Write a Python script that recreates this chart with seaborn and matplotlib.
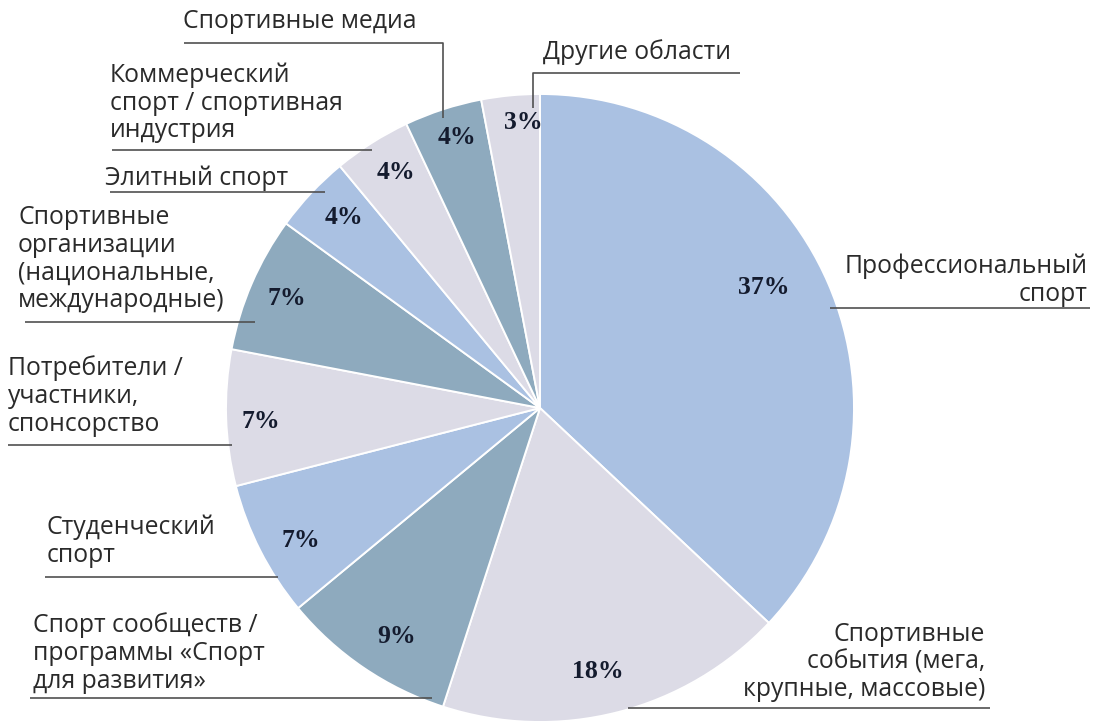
import numpy as np
import matplotlib
matplotlib.use("Agg")
import matplotlib.pyplot as plt
import seaborn as sns

# data
categories = [
    "Профессиональный\nспорт",
    "Спортивные\nсобытия (мега,\nкрупные, массовые)",
    "Спорт сообществ /\nпрограммы «Спорт\nдля развития»",
    "Студенческий\nспорт",
    "Потребители /\nучастники,\nспонсорство",
    "Спортивные\nорганизации\n(национальные,\nмеждународные)",
    "Элитный спорт",
    "Коммерческий\nспорт / спортивная\nиндустрия",
    "Спортивные медиа",
    "Другие области",
]
shares = [37, 18, 9, 7, 7, 7, 4, 4, 4, 3]

LIGHT_BLUE = "#aac1e2"
GREY = "#dcdbe6"
DARK = "#8eaabe"
colors = [LIGHT_BLUE, GREY, DARK, LIGHT_BLUE, GREY, DARK, LIGHT_BLUE, GREY, DARK, GREY]

# layout (pixel coords, y measured from top)
W, H = 1100, 723
CX, CY, R = 540, 408, 314
pct_r = [0.81, 0.86, 0.86, 0.87, 0.89, 0.88, 0.87, 0.88, 0.90, 0.91]
pct_shift = [5, -2, 2, 2, 1, 0, -1, -1, -1, -2]

# (x, y_center, ha, leader line points)
label_layout = [
    (1088, 280, "right", [(830, 308), (1090, 308)]),
    (985, 662, "right", [(628, 708), (990, 708)]),
    (33, 653, "left", [(30, 698), (432, 698)]),
    (47, 541, "left", [(45, 577), (278, 577)]),
    (8, 396, "left", [(8, 445), (232, 445)]),
    (18, 259, "left", [(25, 322), (255, 322)]),
    (105, 178, "left", [(110, 192), (325, 192)]),
    (110, 103, "left", [(112, 150), (372, 150)]),
    (183, 22, "left", [(184, 43), (443, 43), (443, 118)]),
    (543, 52, "left", [(740, 73), (533, 73), (533, 108)]),
]


def py(y):
    return H - y


sns.set_theme(style="white")
plt.rcParams["font.family"] = ["Open Sans", "DejaVu Sans"]

fig = plt.figure(figsize=(11, 7.23), dpi=100)
ax = fig.add_axes([0, 0, 1, 1])

wedges, _ = ax.pie(
    shares, colors=colors, startangle=90, counterclock=False,
    center=(CX, py(CY)), radius=R,
    wedgeprops=dict(edgecolor="white", linewidth=1.4),
)
ax.set_xlim(0, W)
ax.set_ylim(0, H)
ax.set_aspect("equal")
ax.axis("off")

# percentage labels
for w, v, rf, sh in zip(wedges, shares, pct_r, pct_shift):
    ang = np.deg2rad((w.theta1 + w.theta2) / 2 + sh)
    x = CX + rf * R * np.cos(ang)
    y = py(CY) + rf * R * np.sin(ang)
    ax.text(x, y, f"{v}%", ha="center", va="center", fontsize=18.5,
            fontweight="bold", color="#141b2e", family="Liberation Serif")

# category labels with leader lines
for name, (x, y, ha, pts) in zip(categories, label_layout):
    ax.text(x, py(y), name, ha=ha, va="center", multialignment=ha,
            fontsize=17.8, color="#2a2a2a", linespacing=1.14)
    xs = [p[0] for p in pts]
    ys = [py(p[1]) for p in pts]
    ax.plot(xs, ys, color="#505050", linewidth=1.2, solid_capstyle="butt")

plt.savefig("out.png", dpi=100)
plt.close()
